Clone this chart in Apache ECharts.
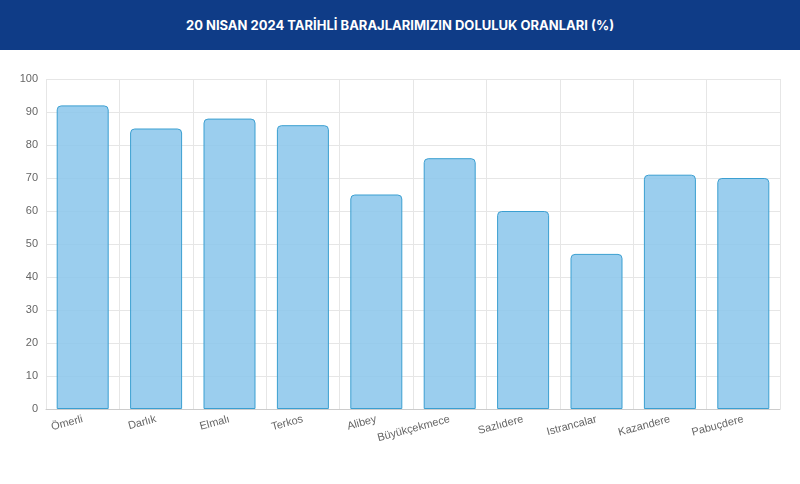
<!DOCTYPE html>
<html><head><meta charset="utf-8">
<script src="https://cdn.jsdelivr.net/npm/echarts@6/dist/echarts.min.js"></script>
<style>body{margin:0;background:#fff}#h{height:50px;background:#0f3c87;color:#fff;font:bold 13px Inter,Roboto,sans-serif;display:flex;align-items:center;justify-content:center}#c{width:800px;height:434px}</style>
</head><body>
<div id="h">20 NISAN 2024 TARİHLİ BARAJLARIMIZIN DOLULUK ORANLARI (%)</div>
<div id="c"></div>
<script>
const categories=["Ömerli","Darlık","Elmalı","Terkos","Alibey","Büyükçekmece","Sazlıdere","Istrancalar","Kazandere","Pabuçdere"];
const values=[92,85,88,86,65,76,60,47,71,70];
const chart=echarts.init(document.getElementById('c'));
chart.setOption({
 animation:false,
 grid:{left:46,right:20,top:29,bottom:75},
 xAxis:{type:'category',data:categories,boundaryGap:true,
  axisLine:{lineStyle:{color:'#ccc'}},axisTick:{show:false},
  splitLine:{show:true,lineStyle:{color:'#e6e6e6'}},
  axisLabel:{rotate:15,color:'#666',fontSize:11,fontFamily:'Arial',interval:0,margin:10}},
 yAxis:{type:'value',min:0,max:100,interval:10,
  axisLine:{show:false},axisLabel:{color:'#666',fontSize:11,fontFamily:'Arial'},
  splitLine:{lineStyle:{color:'#e6e6e6'}}},
 series:[{type:'bar',data:values,barWidth:52,
  itemStyle:{color:'rgba(138,198,235,0.85)',borderColor:'#3b9fd1',borderWidth:1,borderRadius:[4,4,0,0]}}]
});
</script></body></html>
